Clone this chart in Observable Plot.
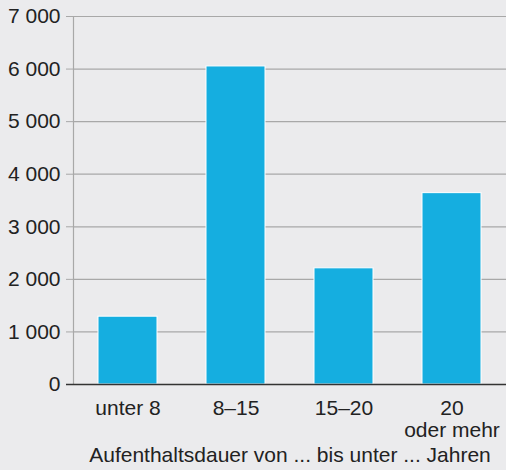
<!DOCTYPE html>
<html>
<head>
<meta charset="utf-8">
<script src="https://cdn.jsdelivr.net/npm/d3@7"></script>
<script src="https://cdn.jsdelivr.net/npm/@observablehq/plot@0.6"></script>
<style>
  html, body { margin: 0; padding: 0; background: #ebebed; }
  #chart svg { display: block; }
</style>
</head>
<body>
<div id="chart"></div>
<script>
const categories = ["unter 8", "8–15", "15–20", "20\noder mehr"];
const values = [1290, 6050, 2210, 3640];
const yTicks = [0, 1000, 2000, 3000, 4000, 5000, 6000, 7000];
const xTitle = "Aufenthaltsdauer von ... bis unter ... Jahren";

const data = categories.map((c, i) => ({category: c, value: values[i]}));
const fmt = d => d3.format(",")(d).replace(/,/g, " ");

const chart = Plot.plot({
  width: 506,
  height: 470,
  marginLeft: 73,
  marginRight: 0,
  marginTop: 16,
  marginBottom: 86,
  style: {background: "#ebebed", fontFamily: "'Liberation Sans', Arial, sans-serif", fontSize: "21px", color: "#222"},
  x: {domain: categories, paddingInner: 0.45, paddingOuter: 0.225},
  y: {domain: [0, 7000]},
  marks: [
    Plot.gridY(yTicks.filter(d => d > 0), {stroke: "#a8a8a8", strokeOpacity: 1, strokeWidth: 1.2}),
    Plot.frame({anchor: "left", stroke: "#a8a8a8", strokeWidth: 1.2}),
    Plot.axisY(yTicks, {tickSize: 7, tickPadding: 6, tickFormat: fmt, stroke: "#a8a8a8", fill: "#222", fontSize: 21, label: null}),
    Plot.barY(data, {x: "category", y: "value", fill: "#15aee0", stroke: "#ffffff", strokeWidth: 1}),
    Plot.ruleY([0], {stroke: "#333", strokeWidth: 1.5}),
    Plot.axisY([0], {tickSize: 7, text: null, stroke: "#333", strokeWidth: 1.5, label: null}),
    Plot.axisX({tickSize: 0, tickPadding: 15, fontSize: 21, lineHeight: 1.05, fill: "#222", label: null}),
    Plot.text([xTitle], {frameAnchor: "bottom", dy: 71, fontSize: 21, fill: "#222", lineAnchor: "middle"})
  ]
});
document.getElementById("chart").appendChild(chart);
</script>
</body>
</html>
